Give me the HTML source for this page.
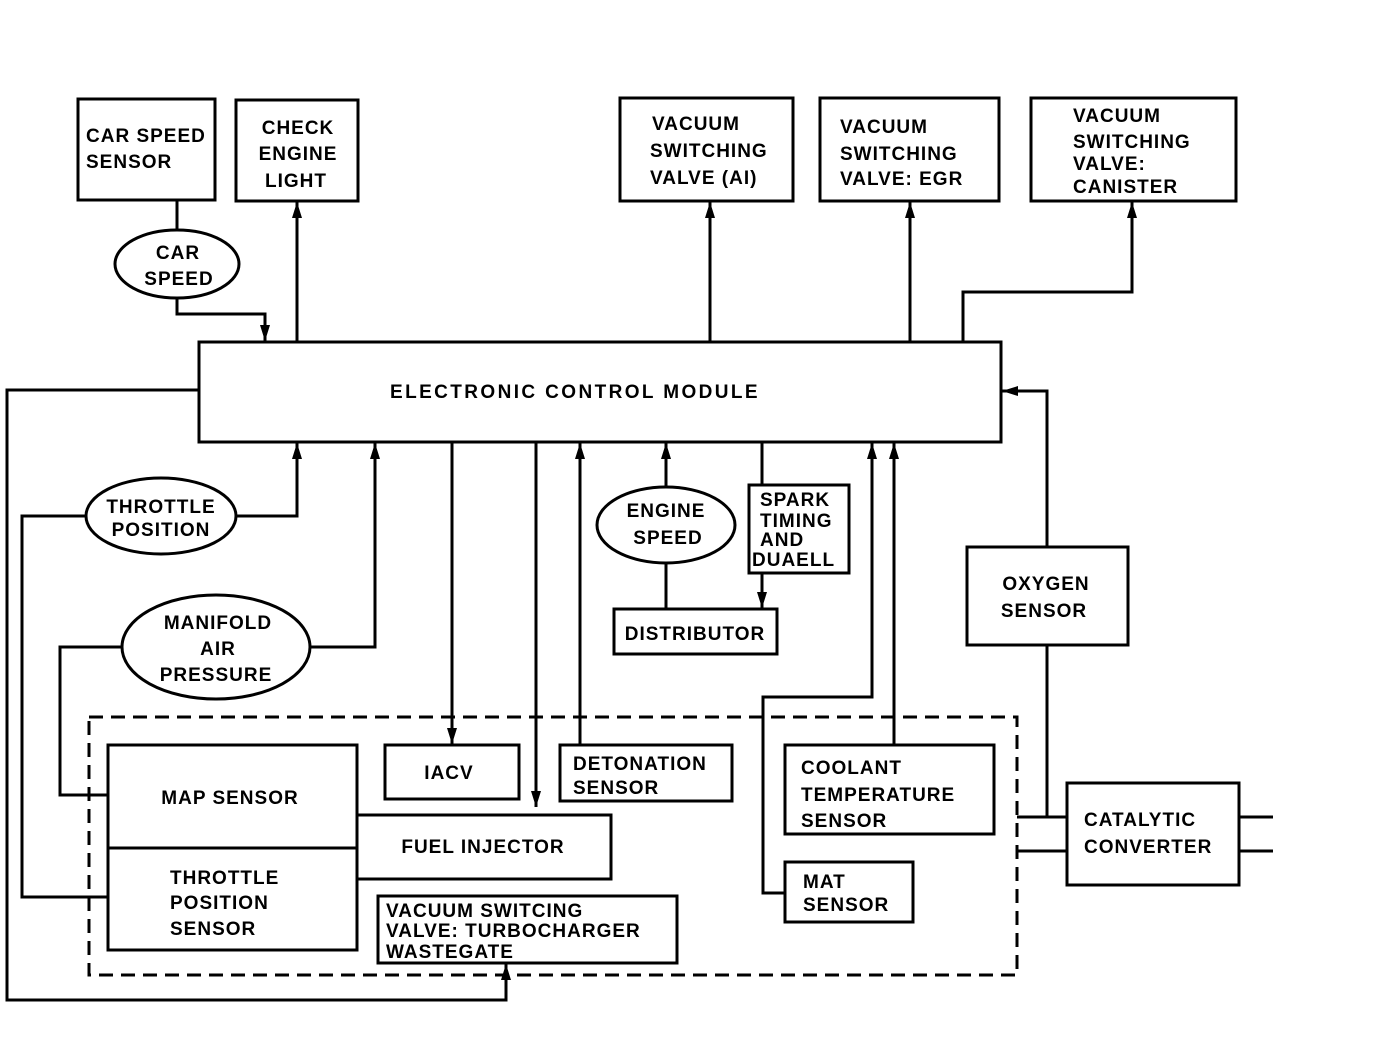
<!DOCTYPE html>
<html><head><style>
html,body{margin:0;padding:0;background:#fff}
svg{display:block}
text{font-family:"Liberation Sans",sans-serif;font-weight:bold;font-size:19px;fill:#000;letter-spacing:1px}
</style></head><body>
<svg width="1392" height="1038" viewBox="0 0 1392 1038" xmlns="http://www.w3.org/2000/svg">
<defs><marker id="a" markerWidth="16" markerHeight="10" refX="16" refY="5" orient="auto" markerUnits="userSpaceOnUse" viewBox="0 0 16 10"><path d="M0,0 L16,5 L0,10 Z" fill="#000"/></marker></defs>
<g fill="none" stroke="#000" stroke-width="3">
<rect x="78" y="99" width="137" height="101"/>
<rect x="236" y="100" width="122" height="101"/>
<rect x="620" y="98" width="173" height="103"/>
<rect x="820" y="98" width="179" height="103"/>
<rect x="1031" y="98" width="205" height="103"/>
<ellipse cx="177" cy="264" rx="62" ry="34"/>
<rect x="199" y="342" width="802" height="100"/>
<ellipse cx="161" cy="516" rx="75" ry="38"/>
<ellipse cx="216" cy="647" rx="94" ry="52"/>
<ellipse cx="666" cy="525" rx="69" ry="38"/>
<rect x="614" y="609" width="163" height="45"/>
<rect x="749" y="485" width="100" height="88"/>
<rect x="967" y="547" width="161" height="98"/>
<rect x="89" y="717" width="928" height="258" stroke-dasharray="14,8"/>
<rect x="108" y="745" width="249" height="205"/>
<line x1="108" y1="848" x2="357" y2="848"/>
<rect x="385" y="745" width="134" height="54"/>
<rect x="357" y="815" width="254" height="64"/>
<rect x="560" y="745" width="172" height="56"/>
<rect x="378" y="896" width="299" height="67"/>
<rect x="785" y="745" width="209" height="89"/>
<rect x="785" y="862" width="128" height="60"/>
<rect x="1067" y="783" width="172" height="102"/>
<polyline points="177,200 177,230"/>
<polyline points="177,298 177,314 265,314 265,341" marker-end="url(#a)"/>
<polyline points="297,341 297,202" marker-end="url(#a)"/>
<polyline points="710,341 710,202" marker-end="url(#a)"/>
<polyline points="910,341 910,202" marker-end="url(#a)"/>
<polyline points="963,341 963,292 1132,292 1132,202" marker-end="url(#a)"/>
<polyline points="199,390 7,390 7,1000 506,1000 506,964" marker-end="url(#a)"/>
<polyline points="236,516 297,516 297,443" marker-end="url(#a)"/>
<polyline points="86,516 22,516 22,897 108,897"/>
<polyline points="310,647 375,647 375,443" marker-end="url(#a)"/>
<polyline points="122,647 60,647 60,795 108,795"/>
<polyline points="452,443 452,744" marker-end="url(#a)"/>
<polyline points="536,443 536,807" marker-end="url(#a)"/>
<polyline points="580,745 580,443" marker-end="url(#a)"/>
<polyline points="666,487 666,443" marker-end="url(#a)"/>
<polyline points="666,563 666,609"/>
<polyline points="762,443 762,485"/>
<polyline points="762,573 762,608" marker-end="url(#a)"/>
<polyline points="785,893 763,893 763,697 872,697 872,443" marker-end="url(#a)"/>
<polyline points="894,745 894,443" marker-end="url(#a)"/>
<polyline points="1047,547 1047,391 1002,391" marker-end="url(#a)"/>
<polyline points="1047,645 1047,817"/>
<polyline points="1017,817 1067,817"/>
<polyline points="1017,851 1067,851"/>
<polyline points="1239,817 1273,817"/>
<polyline points="1239,851 1273,851"/>
</g>
<text x="86" y="142">CAR SPEED</text>
<text x="86" y="168">SENSOR</text>
<text x="298" y="134" text-anchor="middle">CHECK</text>
<text x="298" y="160" text-anchor="middle">ENGINE</text>
<text x="296" y="187" text-anchor="middle">LIGHT</text>
<text x="652" y="130">VACUUM</text>
<text x="650" y="157">SWITCHING</text>
<text x="650" y="184">VALVE (AI)</text>
<text x="840" y="133">VACUUM</text>
<text x="840" y="160">SWITCHING</text>
<text x="840" y="185">VALVE: EGR</text>
<text x="1073" y="122">VACUUM</text>
<text x="1073" y="148">SWITCHING</text>
<text x="1073" y="170">VALVE:</text>
<text x="1073" y="193">CANISTER</text>
<text x="178" y="259" text-anchor="middle">CAR</text>
<text x="179" y="285" text-anchor="middle">SPEED</text>
<text x="575" y="398" text-anchor="middle" style="letter-spacing:2.4px">ELECTRONIC CONTROL MODULE</text>
<text x="161" y="513" text-anchor="middle">THROTTLE</text>
<text x="161" y="536" text-anchor="middle">POSITION</text>
<text x="218" y="629" text-anchor="middle">MANIFOLD</text>
<text x="218" y="655" text-anchor="middle">AIR</text>
<text x="216" y="681" text-anchor="middle">PRESSURE</text>
<text x="666" y="517" text-anchor="middle">ENGINE</text>
<text x="668" y="544" text-anchor="middle">SPEED</text>
<text x="695" y="640" text-anchor="middle">DISTRIBUTOR</text>
<text x="760" y="506">SPARK</text>
<text x="760" y="527">TIMING</text>
<text x="760" y="546">AND</text>
<text x="752" y="566">DUAELL</text>
<text x="1046" y="590" text-anchor="middle">OXYGEN</text>
<text x="1044" y="617" text-anchor="middle">SENSOR</text>
<text x="230" y="804" text-anchor="middle">MAP SENSOR</text>
<text x="170" y="884">THROTTLE</text>
<text x="170" y="909">POSITION</text>
<text x="170" y="935">SENSOR</text>
<text x="449" y="779" text-anchor="middle">IACV</text>
<text x="483" y="853" text-anchor="middle">FUEL INJECTOR</text>
<text x="573" y="770">DETONATION</text>
<text x="573" y="794">SENSOR</text>
<text x="386" y="917">VACUUM SWITCING</text>
<text x="386" y="937">VALVE: TURBOCHARGER</text>
<text x="386" y="958">WASTEGATE</text>
<text x="801" y="774">COOLANT</text>
<text x="801" y="801">TEMPERATURE</text>
<text x="801" y="827">SENSOR</text>
<text x="803" y="888">MAT</text>
<text x="803" y="911">SENSOR</text>
<text x="1084" y="826">CATALYTIC</text>
<text x="1084" y="853">CONVERTER</text>
</svg>
</body></html>
